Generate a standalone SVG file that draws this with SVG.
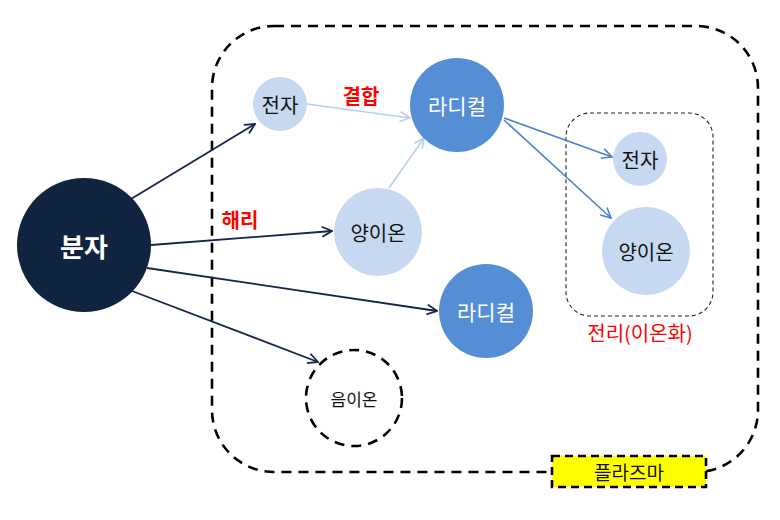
<svg xmlns="http://www.w3.org/2000/svg" width="780" height="520" viewBox="0 0 780 520">
<defs>
<style>
text{font-family:"Noto Sans CJK KR","Noto Sans",sans-serif;text-anchor:middle;dominant-baseline:central}
.light{fill:#C6D9F1}
.mid{fill:#558ED5}
.blk{fill:#111;font-size:20px}
.wht{fill:#fff;font-size:21px}
.red{fill:#FF0000;font-size:20px}
.dk{stroke:#14264A;stroke-width:1.8;fill:none}
.lb{stroke:#B8CFEC;stroke-width:1.6;fill:none}
.bl{stroke:#4A82CC;stroke-width:1.6;fill:none}
</style>
<marker id="aDk" viewBox="0 0 12 12" refX="11" refY="6" markerWidth="12" markerHeight="12" markerUnits="userSpaceOnUse" orient="auto"><path d="M1,1 L11,6 L1,11" fill="none" stroke="#14264A" stroke-width="1.8"/></marker>
<marker id="aLb" viewBox="0 0 12 12" refX="11" refY="6" markerWidth="12" markerHeight="12" markerUnits="userSpaceOnUse" orient="auto"><path d="M1,1 L11,6 L1,11" fill="none" stroke="#B8CFEC" stroke-width="1.6"/></marker>
<marker id="aBl" viewBox="0 0 12 12" refX="11" refY="6" markerWidth="12" markerHeight="12" markerUnits="userSpaceOnUse" orient="auto"><path d="M1,1 L11,6 L1,11" fill="none" stroke="#4A82CC" stroke-width="1.6"/></marker>
</defs>
<rect width="780" height="520" fill="#fff"/>
<g id="plasma">
<rect x="212" y="26" width="546" height="446" rx="62" ry="62" fill="none" stroke="#000" stroke-width="2.6" stroke-dasharray="10,7"/>
</g>
<g id="ionization-box">
<rect x="566" y="113" width="147" height="203" rx="24" ry="24" fill="none" stroke="#222" stroke-width="1.1" stroke-dasharray="4,3"/>
<text x="640" y="332" class="red">전리(이온화)</text>
</g>
<g id="connectors">
<line x1="131" y1="199" x2="255" y2="124" class="dk" marker-end="url(#aDk)"/>
<line x1="151" y1="245" x2="332" y2="231" class="dk" marker-end="url(#aDk)"/>
<line x1="147" y1="268" x2="437" y2="311" class="dk" marker-end="url(#aDk)"/>
<line x1="132" y1="291" x2="318" y2="362" class="dk" marker-end="url(#aDk)"/>
<line x1="307" y1="104" x2="410" y2="118" class="lb" marker-end="url(#aLb)"/>
<line x1="389" y1="188" x2="424" y2="138" class="lb" marker-end="url(#aLb)"/>
<line x1="504" y1="118" x2="612" y2="157" class="bl" marker-end="url(#aBl)"/>
<line x1="504" y1="120" x2="611" y2="218" class="bl" marker-end="url(#aBl)"/>
<text x="361" y="95" class="red" style="font-weight:bold">결합</text>
<text x="240" y="219" class="red" style="font-weight:bold">해리</text>
</g>
<g id="molecule">
<circle cx="84" cy="245" r="67" fill="#10243F"/>
<text x="84" y="245" class="wht" style="font-size:26px;font-weight:bold">분자</text>
</g>
<g id="electron1">
<circle cx="280" cy="104" r="27" class="light"/>
<text x="280" y="104" class="blk">전자</text>
</g>
<g id="radical1">
<circle cx="457" cy="105" r="47" class="mid"/>
<text x="457" y="105" class="wht">라디컬</text>
</g>
<g id="cation1">
<circle cx="378" cy="232" r="44" class="light"/>
<text x="378" y="232" class="blk">양이온</text>
</g>
<g id="radical2">
<circle cx="486" cy="311" r="47" class="mid"/>
<text x="486" y="311" class="wht">라디컬</text>
</g>
<g id="anion">
<circle cx="354" cy="398" r="48" fill="#fff" stroke="#000" stroke-width="2.6" stroke-dasharray="10,7"/>
<text x="354" y="398" class="blk" style="font-size:17px">음이온</text>
</g>
<g id="electron2">
<circle cx="640" cy="159" r="27" class="light"/>
<text x="640" y="159" class="blk">전자</text>
</g>
<g id="cation2">
<circle cx="646" cy="251" r="44" class="light"/>
<text x="646" y="251" class="blk">양이온</text>
</g>
<g id="plasma-label">
<rect x="552" y="456" width="154" height="31" fill="#FFFF00" stroke="#000" stroke-width="2.6" stroke-dasharray="8,5"/>
<text x="629" y="471" class="blk" style="font-size:19px">플라즈마</text>
</g>
</svg>
